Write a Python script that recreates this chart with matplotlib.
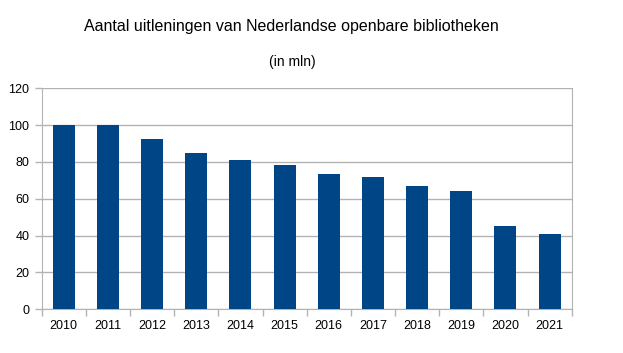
import matplotlib
matplotlib.use("Agg")
import matplotlib.pyplot as plt
import numpy as np

years = ["2010", "2011", "2012", "2013", "2014", "2015", "2016", "2017", "2018", "2019", "2020", "2021"]
loans = [99.9, 99.9, 92.5, 84.9, 81.1, 78.3, 73.5, 71.8, 66.9, 64.2, 45.2, 40.9]
yticks = [0, 20, 40, 60, 80, 100, 120]

plt.rcParams['font.family'] = ['Liberation Sans', 'DejaVu Sans']
grey = '#b3b3b3'

fig = plt.figure(figsize=(6.23, 3.53), dpi=100)
ax = fig.add_axes([41.7/623, 1 - 309.3/353, 530/623, 221/353])

x = np.arange(len(years))
ax.bar(x, loans, width=0.5, color='#004586', zorder=3)
ax.set_xlim(-0.5, len(years) - 0.5)
ax.set_ylim(0, 120)
ax.set_yticks(yticks)
ax.set_yticklabels([str(v) for v in yticks], fontsize=9)
ax.set_xticks(x)
ax.set_xticklabels(years, fontsize=9)
ax.set_xticks(np.arange(-0.5, len(years), 1), minor=True)
ax.tick_params(axis='x', which='major', length=0, pad=8)
ax.tick_params(axis='x', which='minor', length=5, color=grey, width=1, direction='out')
ax.tick_params(axis='y', which='major', length=5, color=grey, width=1, pad=4)
ax.yaxis.grid(True, color=grey, linewidth=1, zorder=0)
for s in ['left', 'bottom', 'right']:
    ax.spines[s].set_color(grey)
ax.spines['top'].set_visible(False)

fig.text(291.5/623, 1 - 27/353, "Aantal uitleningen van Nederlandse openbare bibliotheken",
         ha='center', va='center', fontsize=11.5)
fig.text(292/623, 1 - 62/353, "(in mln)", ha='center', va='center', fontsize=10)

fig.savefig("out.png", dpi=100)
